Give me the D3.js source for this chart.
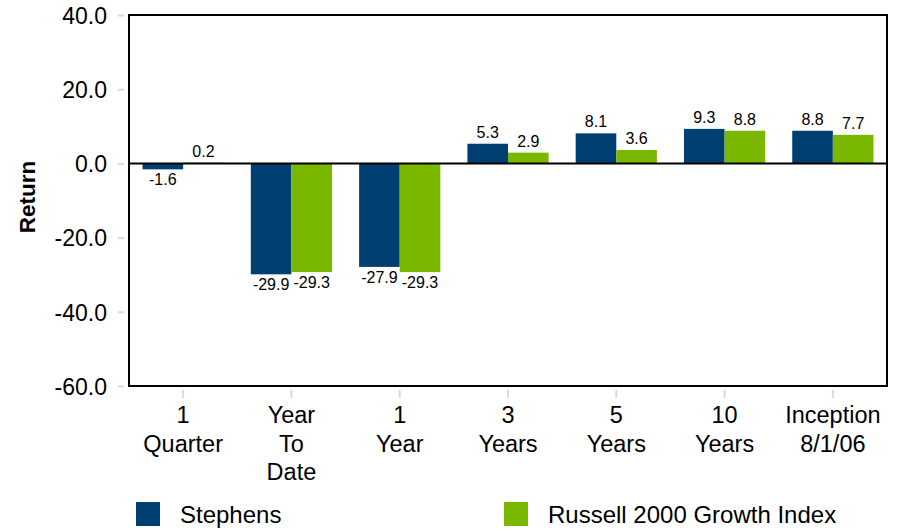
<!DOCTYPE html>
<html>
<head>
<meta charset="utf-8">
<script src="https://cdn.jsdelivr.net/npm/d3@7"></script>
<style>
  html, body { margin: 0; padding: 0; background: #fff; }
  svg { display: block; font-family: "Liberation Sans", Arial, sans-serif; }
</style>
</head>
<body>
<svg id="chart" width="900" height="532"></svg>
<script>
// Period categories (multi-line labels)
const categories = ["1 Quarter", "Year To Date", "1 Year", "3 Years", "5 Years", "10 Years", "Inception 8/1/06"];
const categoryLines = [["1", "Quarter"], ["Year", "To", "Date"], ["1", "Year"], ["3", "Years"], ["5", "Years"], ["10", "Years"], ["Inception", "8/1/06"]];
const seriesNames = ["Stephens", "Russell 2000 Growth Index"];
const stephens = [-1.6, -29.9, -27.9, 5.3, 8.1, 9.3, 8.8];
const russell = [0.2, -29.3, -29.3, 2.9, 3.6, 8.8, 7.7];
const yTicks = [40, 20, 0, -20, -40, -60];
const colors = ["#003f72", "#7ab800"];

const fmt = v => v.toFixed(1);

const svg = d3.select("#chart");
const plot = { left: 129, right: 887, top: 15, bottom: 386 };

const x = d3.scaleBand().domain(categories).range([plot.left, plot.right]).paddingInner(0.25).paddingOuter(0.125);
const xs = d3.scaleBand().domain(seriesNames).range([0, x.bandwidth()]);
const y = d3.scaleLinear().domain([-60, 40]).range([plot.bottom, plot.top]);

const rows = categories.map((c, i) => ({ cat: c, vals: [stephens[i], russell[i]] }));

// Y axis ticks and labels
const yAxis = d3.axisLeft(y).tickValues(yTicks).tickSize(6).tickPadding(11).tickFormat(fmt);
const ya = svg.append("g").attr("transform", `translate(${plot.left - 5},0)`).call(yAxis);
ya.select(".domain").remove();
ya.selectAll(".tick line").attr("stroke", "#d9d9d9").attr("stroke-width", 2);
ya.selectAll(".tick text").attr("font-size", 23).attr("fill", "#000").attr("dy", "0.36em")
  .style("font-family", "Liberation Sans, Arial, sans-serif");

// X axis ticks and labels
const xAxis = d3.axisBottom(x).tickSize(8).tickFormat("");
const xa = svg.append("g").attr("transform", `translate(0,${plot.bottom + 4})`).call(xAxis);
xa.select(".domain").remove();
xa.selectAll(".tick line").attr("stroke", "#d9d9d9").attr("stroke-width", 2);
xa.selectAll(".tick").each(function(d, i) {
  const t = d3.select(this).append("text")
    .attr("text-anchor", "middle").attr("font-size", 23.5).attr("fill", "#000")
    .style("font-family", "Liberation Sans, Arial, sans-serif");
  categoryLines[i].forEach((line, k) => {
    t.append("tspan").attr("x", 0).attr("y", 33 + k * 28.5).text(line);
  });
});

// Bars
const groups = svg.append("g").selectAll("g").data(rows).join("g")
  .attr("transform", d => `translate(${x(d.cat)},0)`);
groups.selectAll("rect").data(d => d.vals.map((v, k) => ({ v, k }))).join("rect")
  .attr("x", d => xs(seriesNames[d.k]))
  .attr("width", xs.bandwidth())
  .attr("y", d => y(Math.max(0, d.v)))
  .attr("height", d => Math.abs(y(d.v) - y(0)))
  .attr("fill", d => colors[d.k]);

// Value labels
groups.selectAll("text.val").data(d => d.vals.map((v, k) => ({ v, k }))).join("text")
  .attr("class", "val")
  .attr("x", d => xs(seriesNames[d.k]) + xs.bandwidth() / 2)
  .attr("y", d => d.v >= 0 ? y(d.v) - 6 : y(d.v) + 16)
  .attr("text-anchor", "middle").attr("font-size", 16).attr("fill", "#000")
  .text(d => fmt(d.v));

// Zero line
svg.append("line").attr("x1", plot.left).attr("x2", plot.right)
  .attr("y1", y(0)).attr("y2", y(0)).attr("stroke", "#000").attr("stroke-width", 2);

// Plot frame
svg.append("rect").attr("x", plot.left).attr("y", plot.top)
  .attr("width", plot.right - plot.left).attr("height", plot.bottom - plot.top)
  .attr("fill", "none").attr("stroke", "#000").attr("stroke-width", 2);

// Y axis title
svg.append("text").attr("transform", `translate(35,197) rotate(-90)`)
  .attr("text-anchor", "middle").attr("font-size", 22.5).attr("font-weight", "bold").text("Return");

// Legend
const legendX = [136, 504];
seriesNames.forEach((name, k) => {
  svg.append("rect").attr("x", legendX[k]).attr("y", 502).attr("width", 24).attr("height", 24).attr("fill", colors[k]);
  svg.append("text").attr("x", legendX[k] + 44).attr("y", 523).attr("font-size", 24).attr("fill", "#000").text(name);
});
</script>
</body>
</html>
